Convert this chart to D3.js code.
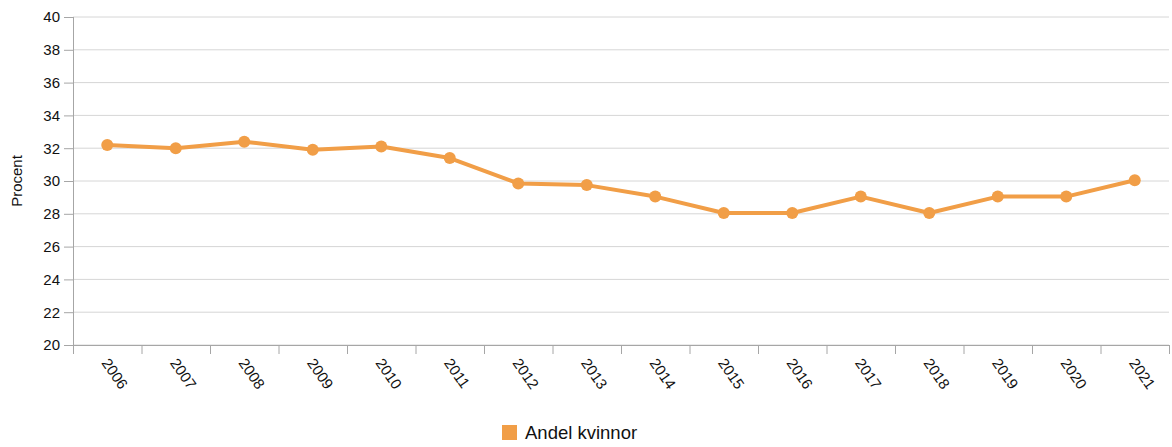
<!DOCTYPE html>
<html><head><meta charset="utf-8">
<script src="https://cdn.jsdelivr.net/npm/d3@7"></script>
<style>body{margin:0;background:#fff;font-family:"Liberation Sans",Arial,sans-serif;}</style>
</head><body><svg id="c" width="1172" height="447"></svg>
<script>
const years = ["2006","2007","2008","2009","2010","2011","2012","2013","2014","2015","2016","2017","2018","2019","2020","2021"];
const andelKvinnor = [32.2,32.0,32.4,31.9,32.1,31.4,29.85,29.75,29.05,28.05,28.05,29.05,28.05,29.05,29.05,30.05];
const yTicks = [20,22,24,26,28,30,32,34,36,38,40];
const seriesName = "Andel kvinnor";
const color = "#F19E47";

const svg = d3.select("#c");
const L = 73, R = 1169, T = 17, B = 345;
const x = d3.scaleBand().domain(years).range([L, R]);
const y = d3.scaleLinear().domain([20, 40]).range([B, T]);

// grid
svg.append("g").selectAll("line").data(yTicks).join("line")
  .attr("x1", L).attr("x2", R).attr("y1", d => y(d)).attr("y2", d => y(d))
  .attr("stroke", "#d6d6d6").attr("stroke-width", 1);

// y axis
const ya = svg.append("g").attr("transform", `translate(${L},0)`)
  .call(d3.axisLeft(y).tickValues(yTicks).tickSize(9).tickPadding(4));
ya.select(".domain").attr("stroke", "#a6a6a6").attr("d", `M0.5,${T}V${B}`);
ya.selectAll(".tick line").attr("stroke", "#a6a6a6");
ya.selectAll("text").attr("font-size", 15).attr("fill", "#111").attr("font-family", "Liberation Sans, Arial, sans-serif");

// x axis
const xa = svg.append("g").attr("transform", `translate(0,${B})`);
xa.append("line").attr("x1", L).attr("x2", R).attr("y1", 0.5).attr("y2", 0.5).attr("stroke", "#a6a6a6");
const bounds = years.map(d => x(d)).concat([R]);
xa.selectAll("line.tk").data(bounds).join("line").attr("class","tk")
  .attr("x1", d => d + 0.5).attr("x2", d => d + 0.5).attr("y1", 0).attr("y2", 9).attr("stroke", "#a6a6a6");
xa.selectAll("text").data(years).join("text")
  .attr("transform", d => `translate(${x(d) + x.bandwidth()/2 - 2},${15}) rotate(55)`)
  .attr("font-size", 15).attr("fill", "#111").attr("text-anchor", "start").attr("dy", "0.35em")
  .text(d => d);

// y title
svg.append("text").attr("transform", `translate(22,${(T+B)/2}) rotate(-90)`)
  .attr("text-anchor", "middle").attr("font-size", 15).attr("fill", "#111").text("Procent");

// line
const cx = (d, i) => x(years[i]) + x.bandwidth()/2;
svg.append("path").datum(andelKvinnor)
  .attr("d", d3.line().x((d,i) => cx(d,i)).y(d => y(d)))
  .attr("fill", "none").attr("stroke", color).attr("stroke-width", 4).attr("stroke-linejoin", "round");
svg.append("g").selectAll("circle").data(andelKvinnor).join("circle")
  .attr("cx", (d,i) => cx(d,i)).attr("cy", d => y(d)).attr("r", 6).attr("fill", color);

// legend
const lg = svg.append("g").attr("transform", "translate(502,425)");
lg.append("rect").attr("width", 15).attr("height", 15).attr("fill", color);
lg.append("text").attr("x", 23).attr("y", 8).attr("dy", "0.35em").attr("font-size", 18.5).attr("fill", "#111").text(seriesName);
</script></body></html>
